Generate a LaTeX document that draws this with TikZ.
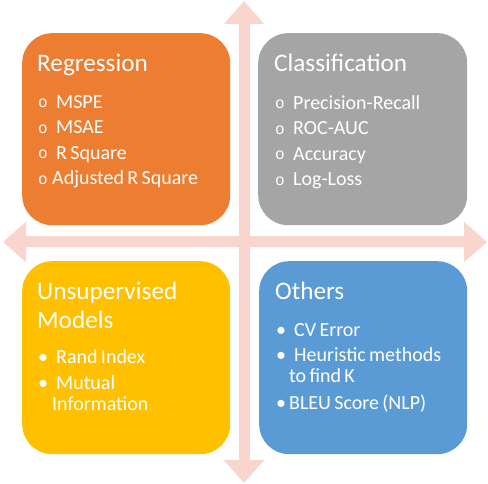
\documentclass[tikz,border=0pt]{standalone}
\usepackage{fontspec}
\setmainfont{Carlito}
\newfontfamily\bulletfont{Liberation Mono}
\usetikzlibrary{arrows.meta,positioning}
\definecolor{regorange}{RGB}{237,125,49}
\definecolor{clsgrey}{RGB}{165,165,165}
\definecolor{unsyellow}{RGB}{255,192,0}
\definecolor{othblue}{RGB}{91,155,213}
\definecolor{crosspink}{RGB}{248,214,205}
\newcommand{\titlesize}{\fontsize{25.2}{29}\selectfont}
\newcommand{\itemsize}{\fontsize{20}{21.5}\selectfont}
\newcommand{\hollowbullet}[1][19pt]{\makebox[#1][l]{\hspace{1pt}\raisebox{0.5pt}{\fontsize{16}{16}\bulletfont o}}}
\newcommand{\solidbullet}[1][19pt]{\makebox[#1][l]{\hspace{1pt}\textbullet}}
\tikzset{
  quad/.style={draw=none, rounded corners=30pt, inner sep=0pt, minimum width=208pt, minimum height=192pt, anchor=north west},
  blurb/.style={text=white, align=left, inner sep=0pt, text width=200pt, anchor=north west},
  axis/.style={line width=11pt, draw=crosspink, {Triangle[width=39pt,length=23pt]}-{Triangle[width=39pt,length=23pt]}}
}

\begin{document}
\begin{tikzpicture}[x=1pt,y=1pt]
\useasboundingbox (0,0) rectangle (488,484);

% Cross arrows behind the boxes
\coordinate (top) at (244,483);
\coordinate (bottom) at (244,1);
\coordinate (left) at (3,242);
\coordinate (right) at (487,242);
\draw[axis] (bottom) -- (top);
\draw[axis] (left) -- (right);

% Quadrant boxes
\node[quad, fill=regorange] (reg) at (22,451) {};
\node[quad, fill=clsgrey, minimum width=209pt] (cls) at (258,451) {};
\node[quad, fill=unsyellow, minimum height=193pt] (uns) at (22,223) {};
\node[quad, fill=othblue, minimum height=193pt] (oth) at (259,223) {};

% Texts inside the boxes
\node[blurb] (reg text) at ([shift={(15,-17.7)}]reg.north west) {%
\titlesize\strut Regression\par
\itemsize\vspace{14.5pt}
\hollowbullet MSPE\\[4pt]
\hollowbullet MSAE\\[4pt]
\hollowbullet R Square\\[4pt]
\hollowbullet[15pt]Adjusted R Square\par};

\node[blurb] (cls text) at ([shift={(16,-17.7)}]cls.north west) {%
\titlesize\strut Classification\par
\itemsize\vspace{14.5pt}
\hollowbullet Precision-Recall\\[4pt]
\hollowbullet ROC-AUC\\[4pt]
\hollowbullet Accuracy\\[4pt]
\hollowbullet Log-Loss\par};

\node[blurb] (uns text) at ([shift={(15,-17.7)}]uns.north west) {%
\titlesize\strut Unsupervised\\
Models\par
\itemsize\vspace{13.5pt}
\solidbullet Rand Index\\[4.5pt]
\solidbullet Mutual\\
\hspace*{15pt}Information\par};

\node[blurb] (oth text) at ([shift={(16,-17.7)}]oth.north west) {%
\titlesize\strut Others\par
\itemsize\vspace{14.5pt}
\solidbullet CV Error\\[3.5pt]
\solidbullet Heuristic methods\\
\hspace*{14pt}to find K\\[5.5pt]
\solidbullet[14pt]BLEU Score (NLP)\par};

\end{tikzpicture}
\end{document}
